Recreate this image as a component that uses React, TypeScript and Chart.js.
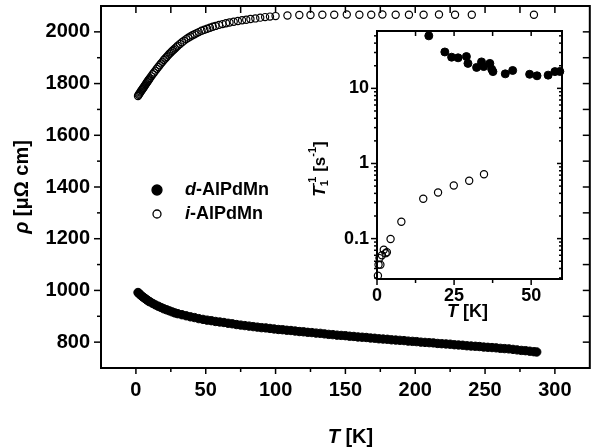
import React, { useEffect, useRef } from 'react';
import { Chart, registerables } from 'chart.js';
Chart.register(...registerables);

const FONT = '"Liberation Sans", Arial, Helvetica, sans-serif';
const B = (px: number) => `bold ${px}px ${FONT}`;
const BI = (px: number) => `italic bold ${px}px ${FONT}`;

// ---------- main panel: resistivity ----------
const iT = [1.5, 2, 2.5, 3, 3.5, 4, 4.5, 5, 5.5, 6, 6.5, 7, 7.5, 8, 8.5, 9, 9.5, 10, 11, 12, 13, 14, 15, 16, 17, 18, 19, 20, 21, 22, 23, 24, 25, 26, 27, 28, 29, 30, 31.5, 33, 34.5, 36, 37.5, 39, 40.5, 42, 43.5, 45, 47, 49, 51, 53, 55, 57, 59.5, 62, 64.5, 67, 70, 73, 76, 79, 82, 85.5, 89, 92.5, 96, 100, 108.5, 117, 125, 133.5, 142, 151, 160, 168.5, 176.5, 186, 195.5, 206, 217, 228.5, 240.5, 285];
const iRho = [1752, 1757, 1761, 1765, 1769, 1773, 1777, 1781, 1785, 1789, 1793, 1797, 1801, 1805, 1809, 1813, 1817, 1821, 1828, 1836, 1843, 1850, 1857, 1864, 1871, 1878, 1884, 1891, 1897, 1903, 1909, 1915, 1920, 1926, 1931, 1936, 1941, 1946, 1953, 1960, 1966, 1972, 1977, 1982, 1987, 1991, 1995, 1999, 2004, 2008, 2012, 2016, 2020, 2023, 2027, 2030, 2033, 2036, 2039, 2042, 2045, 2047, 2050, 2052, 2055, 2057, 2059, 2061, 2063, 2065, 2065, 2066, 2066, 2067, 2066, 2066, 2067, 2066, 2066, 2066, 2067, 2066, 2066, 2066];

const dT = [1.5, 2, 3, 4, 5, 6, 7, 8, 9, 10, 12, 14, 16, 18, 20, 22, 24, 26, 28, 30, 33, 36, 39, 42, 45, 48, 51, 54, 57, 60, 63, 66, 69, 72, 75, 78, 81, 84, 87, 90, 93, 96, 99, 102, 105, 108, 111, 114, 117, 120, 123, 126, 129, 132, 135, 138, 141, 144, 147, 150, 153, 156, 159, 162, 165, 168, 171, 174, 177, 180, 183, 186, 189, 192, 195, 198, 201, 204, 207, 210, 213, 216, 219, 222, 225, 228, 231, 234, 237, 240, 243, 246, 249, 252, 255, 258, 261, 264, 267, 270, 273, 276, 279, 282, 285, 287];
const dRho = [992, 989, 984, 979, 975, 971, 967, 963, 959, 956, 950, 944, 939, 934, 929, 925, 921, 917, 913, 910, 906, 902, 898, 895, 891, 888, 885, 883, 880, 878, 876, 873, 871, 868, 866, 864, 862, 860, 858, 856, 855, 853, 851, 849, 848, 846, 845, 843, 841, 840, 838, 837, 835, 834, 832, 830, 829, 827, 826, 825, 823, 822, 820, 819, 818, 816, 815, 813, 812, 811, 809, 808, 807, 806, 804, 803, 802, 800, 799, 798, 797, 795, 794, 793, 792, 790, 789, 788, 786, 785, 784, 783, 781, 780, 779, 778, 776, 775, 774, 772, 770, 768, 767, 765, 763, 762];

const MAIN_X_TICKS = [0, 50, 100, 150, 200, 250, 300];
const MAIN_Y_TICKS = [800, 1000, 1200, 1400, 1600, 1800, 2000];

// ---------- inset: relaxation rate ----------
const insetDT = [16.8, 22, 24.2, 26.3, 29, 29.5, 32.3, 33.9, 34.6, 36.6, 37.2, 37.6, 41.6, 44, 49.5, 51.9, 55.5, 57.7, 59.3];
const insetDRate = [50, 30.5, 26, 25.5, 26.5, 21.5, 19, 22.5, 19.5, 21.5, 18, 16.7, 15.6, 17.3, 15.4, 14.7, 15, 16.7, 16.8];
const insetIT = [0.3, 0.5, 0.8, 1.1, 1.6, 2.2, 2.8, 3.2, 4.4, 7.9, 15, 19.8, 24.9, 29.9, 34.7];
const insetIRate = [0.032, 0.045, 0.055, 0.045, 0.06, 0.071, 0.064, 0.066, 0.099, 0.168, 0.34, 0.41, 0.51, 0.59, 0.72];

const INSET_X_TICKS = [0, 25, 50];
const INSET_Y_TICKS = [0.1, 1, 10];

type TickSet = { values: number[]; len: number };
type FrameSpec = { lw: number; bottom: TickSet[]; top: TickSet[]; left: TickSet[]; right: TickSet[] };
type Part = { t: string; font: string; dy?: number; adv?: boolean };

function drawRich(ctx: CanvasRenderingContext2D, parts: Part[], x0: number, y0: number, rotate: boolean, align: 'center' | 'left') {
  ctx.save();
  ctx.translate(x0, y0);
  if (rotate) ctx.rotate(-Math.PI / 2);
  ctx.textBaseline = 'middle';
  ctx.textAlign = 'left';
  ctx.fillStyle = '#000';
  let w = 0;
  const ws = parts.map((p) => {
    ctx.font = p.font;
    const m = ctx.measureText(p.t).width;
    if (p.adv !== false) w += m;
    return m;
  });
  let x = align === 'center' ? -w / 2 : 0;
  parts.forEach((p, i) => {
    ctx.font = p.font;
    ctx.fillText(p.t, x, p.dy || 0);
    if (p.adv !== false) x += ws[i];
  });
  ctx.restore();
}

function framePlugin(id: string, spec: FrameSpec, extra: (chart: any) => void) {
  return {
    id,
    afterDraw(chart: any) {
      const { ctx, chartArea: a, scales } = chart;
      const xs = scales.x;
      const ys = scales.y;
      ctx.save();
      ctx.strokeStyle = '#000';
      ctx.lineWidth = spec.lw;
      ctx.strokeRect(a.left, a.top, a.right - a.left, a.bottom - a.top);
      ctx.lineWidth = Math.max(1.5, spec.lw - 0.5);
      const line = (x1: number, y1: number, x2: number, y2: number) => {
        ctx.beginPath();
        ctx.moveTo(x1, y1);
        ctx.lineTo(x2, y2);
        ctx.stroke();
      };
      spec.bottom.forEach((s) => s.values.forEach((v) => { const p = xs.getPixelForValue(v); line(p, a.bottom, p, a.bottom + s.len); }));
      spec.top.forEach((s) => s.values.forEach((v) => { const p = xs.getPixelForValue(v); line(p, a.top, p, a.top - s.len); }));
      spec.left.forEach((s) => s.values.forEach((v) => { const p = ys.getPixelForValue(v); line(a.left, p, a.left - s.len, p); }));
      spec.right.forEach((s) => s.values.forEach((v) => { const p = ys.getPixelForValue(v); line(a.right, p, a.right + s.len, p); }));
      ctx.restore();
      extra(chart);
    },
  };
}

function mids(arr: number[]): number[] {
  const out: number[] = [];
  for (let i = 0; i < arr.length - 1; i++) out.push((arr[i] + arr[i + 1]) / 2);
  return out;
}

function logMinors(min: number, max: number): number[] {
  const out: number[] = [];
  for (let e = -3; e <= 3; e++) {
    for (let m = 2; m <= 9; m++) {
      const v = m * Math.pow(10, e);
      if (v > min && v < max) out.push(v);
    }
  }
  return out;
}

const noPadX = (h: number) => (s: any) => { s.height = h; s.paddingLeft = 0; s.paddingRight = 0; };
const noPadY = (w: number) => (s: any) => { s.width = w; s.paddingTop = 0; s.paddingBottom = 0; };

export default function App() {
  const mainRef = useRef<HTMLCanvasElement>(null);
  const insetRef = useRef<HTMLCanvasElement>(null);

  useEffect(() => {
    const mainXMinor = mids(MAIN_X_TICKS);
    const mainXAll = [...MAIN_X_TICKS, ...mainXMinor];
    const mainYMinor = mids(MAIN_Y_TICKS);
    const mainYAll = [...MAIN_Y_TICKS, ...mainYMinor];

    const mainSpec: FrameSpec = {
      lw: 2,
      bottom: [{ values: MAIN_X_TICKS, len: 6 }, { values: mainXMinor, len: 4 }],
      top: [{ values: mainXAll, len: -7 }],
      left: [{ values: MAIN_Y_TICKS, len: 7 }, { values: mainYMinor, len: 4 }],
      right: [{ values: mainYAll, len: -7 }],
    };

    const main = new Chart(mainRef.current as HTMLCanvasElement, {
      type: 'scatter',
      data: {
        datasets: [
          {
            label: 'd-AlPdMn',
            data: dT.map((t, i) => ({ x: t, y: dRho[i] })),
            pointRadius: 4.2,
            pointBackgroundColor: '#000',
            pointBorderColor: '#000',
            pointBorderWidth: 1,
            clip: false as any,
          },
          {
            label: 'i-AlPdMn',
            data: iT.map((t, i) => ({ x: t, y: iRho[i] })),
            pointRadius: 3.6,
            pointBackgroundColor: 'rgba(0,0,0,0)',
            pointBorderColor: '#000',
            pointBorderWidth: 1.2,
            clip: false as any,
          },
        ],
      },
      options: {
        responsive: false,
        animation: false,
        devicePixelRatio: 1,
        events: [],
        layout: { padding: { top: 6, right: 4, left: 0, bottom: 0 } },
        plugins: { legend: { display: false }, tooltip: { enabled: false } },
        scales: {
          x: {
            type: 'linear',
            min: -25,
            max: 325,
            grid: { display: false, drawTicks: false },
            border: { display: false },
            afterBuildTicks: (s: any) => { s.ticks = MAIN_X_TICKS.map((v) => ({ value: v })); },
            afterFit: noPadX(79),
            ticks: { color: '#000', font: { family: FONT, size: 20, weight: 'bold' }, padding: 10, maxRotation: 0, callback: (v: any) => String(v) },
          },
          y: {
            type: 'linear',
            min: 700,
            max: 2100,
            grid: { display: false, drawTicks: false },
            border: { display: false },
            afterBuildTicks: (s: any) => { s.ticks = MAIN_Y_TICKS.map((v) => ({ value: v })); },
            afterFit: noPadY(101),
            ticks: { color: '#000', font: { family: FONT, size: 20, weight: 'bold' }, padding: 11, callback: (v: any) => String(v) },
          },
        },
      },
      plugins: [
        framePlugin('mainFrame', mainSpec, (chart: any) => {
          const ctx = chart.ctx as CanvasRenderingContext2D;
          const a = chart.chartArea;
          drawRich(ctx, [{ t: 'T', font: BI(20) }, { t: ' [K]', font: B(20) }], (a.left + a.right) / 2 + 5, 437, false, 'center');
          drawRich(ctx, [{ t: 'ρ', font: BI(20) }, { t: ' [μΩ cm]', font: B(20) }], 22, (a.top + a.bottom) / 2, true, 'center');
          const lx = 157;
          const rows = [
            { y: 190, fill: true, parts: [{ t: 'd', font: BI(18) }, { t: '-AlPdMn', font: B(18) }] },
            { y: 214, fill: false, parts: [{ t: 'i', font: BI(18) }, { t: '-AlPdMn', font: B(18) }] },
          ];
          rows.forEach((r) => {
            ctx.save();
            ctx.beginPath();
            ctx.arc(lx, r.y, r.fill ? 5 : 4, 0, Math.PI * 2);
            ctx.lineWidth = 1.3;
            ctx.strokeStyle = '#000';
            if (r.fill) { ctx.fillStyle = '#000'; ctx.fill(); }
            ctx.stroke();
            ctx.restore();
            drawRich(ctx, r.parts, 185, r.y, false, 'left');
          });
        }),
      ],
    } as any);

    const insetXMinor = mids(INSET_X_TICKS);
    const insetYMinor = logMinors(0.029, 58);
    const insetSpec: FrameSpec = {
      lw: 2,
      bottom: [{ values: INSET_X_TICKS, len: 6 }, { values: insetXMinor, len: 4 }],
      top: [{ values: [...INSET_X_TICKS, ...insetXMinor], len: -5 }],
      left: [{ values: INSET_Y_TICKS, len: 6 }, { values: insetYMinor, len: 3 }],
      right: [{ values: INSET_Y_TICKS, len: -5 }, { values: insetYMinor, len: -3 }],
    };

    const inset = new Chart(insetRef.current as HTMLCanvasElement, {
      type: 'scatter',
      data: {
        datasets: [
          {
            label: 'd-AlPdMn',
            data: insetDT.map((t, i) => ({ x: t, y: insetDRate[i] })),
            pointRadius: 4,
            pointBackgroundColor: '#000',
            pointBorderColor: '#000',
            pointBorderWidth: 1,
            clip: false as any,
          },
          {
            label: 'i-AlPdMn',
            data: insetIT.map((t, i) => ({ x: t, y: insetIRate[i] })),
            pointRadius: 3.6,
            pointBackgroundColor: 'rgba(0,0,0,0)',
            pointBorderColor: '#000',
            pointBorderWidth: 1.2,
            clip: false as any,
          },
        ],
      },
      options: {
        responsive: false,
        animation: false,
        devicePixelRatio: 1,
        events: [],
        layout: { padding: { top: 31, right: 33, left: 317, bottom: 123 } },
        plugins: { legend: { display: false }, tooltip: { enabled: false } },
        scales: {
          x: {
            type: 'linear',
            min: 0,
            max: 60,
            grid: { display: false, drawTicks: false },
            border: { display: false },
            afterBuildTicks: (s: any) => { s.ticks = INSET_X_TICKS.map((v) => ({ value: v })); },
            afterFit: noPadX(45),
            ticks: { color: '#000', font: { family: FONT, size: 18, weight: 'bold' }, padding: 6, maxRotation: 0, callback: (v: any) => String(v) },
          },
          y: {
            type: 'logarithmic',
            min: 0.029,
            max: 58,
            grid: { display: false, drawTicks: false },
            border: { display: false },
            afterBuildTicks: (s: any) => { s.ticks = INSET_Y_TICKS.map((v) => ({ value: v })); },
            afterFit: noPadY(60),
            ticks: {
              color: '#000',
              font: { family: FONT, size: 18, weight: 'bold' },
              padding: 8,
              callback: (v: any) => String(Number(v)),
            },
          },
        },
      },
      plugins: [
        framePlugin('insetFrame', insetSpec, (chart: any) => {
          const ctx = chart.ctx as CanvasRenderingContext2D;
          const a = chart.chartArea;
          drawRich(ctx, [{ t: 'T', font: BI(18) }, { t: ' [K]', font: B(18) }], (a.left + a.right) / 2 - 2, 312, false, 'center');
          drawRich(
            ctx,
            [
              { t: 'T', font: BI(17) },
              { t: '1', font: B(11), dy: 5, adv: false },
              { t: '-1', font: B(11), dy: -7 },
              { t: ' [s', font: B(17) },
              { t: '-1', font: B(11), dy: -7 },
              { t: ']', font: B(17) },
            ],
            320,
            169,
            true,
            'center'
          );
        }),
      ],
    } as any);

    return () => {
      main.destroy();
      inset.destroy();
    };
  }, []);

  return (
    <div style={{ position: 'absolute', left: 0, top: 0, width: 595, height: 447, background: '#fff' }}>
      <canvas ref={mainRef} width={595} height={447} style={{ position: 'absolute', left: 0, top: 0, width: 595, height: 447 }} />
      <canvas ref={insetRef} width={595} height={447} style={{ position: 'absolute', left: 0, top: 0, width: 595, height: 447 }} />
    </div>
  );
}
